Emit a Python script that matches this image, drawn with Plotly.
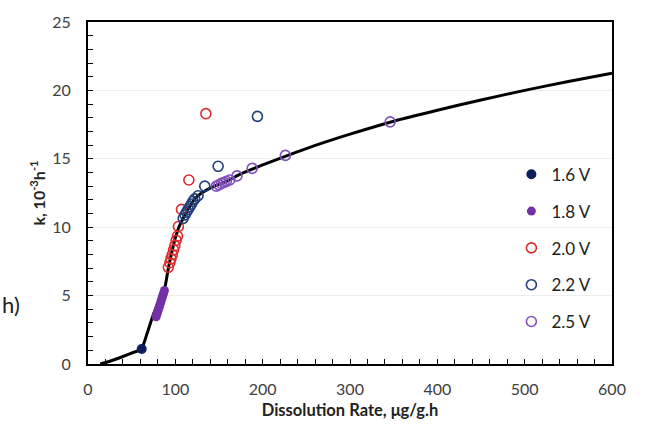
import plotly.graph_objects as go

# Fitted curve
curve_x = [14, 25, 40, 50, 61, 68, 75, 82, 88, 92, 96, 100, 104, 109, 115, 122, 130, 143,
           160, 175, 200, 250, 300, 350, 400, 450, 500, 550, 600]
curve_y = [0, 0.2, 0.55, 0.8, 1.1, 2.3, 3.65, 4.7, 5.6, 7.0, 8.2, 9.2, 10.0, 10.65, 11.35,
           12.05, 12.5, 12.95, 13.4, 13.9, 14.55, 15.75, 16.8, 17.75, 18.55, 19.3, 20.0, 20.65, 21.25]

# Series
x16 = [61.5]
y16 = [1.1]

x18 = [78, 78.9, 79.7, 80.6, 81.5, 82.3, 83.2, 84.1, 84.9, 85.8, 86.6, 87.5]
y18 = [3.45, 3.63, 3.8, 3.98, 4.15, 4.33, 4.5, 4.68, 4.85, 5.03, 5.2, 5.38]

x20 = [92, 93.7, 95, 96.5, 98, 99.4, 101, 102.5, 103.5, 107, 115.5, 135]
y20 = [7.07, 7.4, 7.7, 8.0, 8.35, 8.65, 9.05, 9.35, 10.05, 11.3, 13.45, 18.3]

x22 = [109, 111, 112.8, 114.6, 116.6, 118.5, 120.3, 122.3, 126, 133.7, 149, 194]
y22 = [10.65, 10.9, 11.1, 11.3, 11.5, 11.7, 11.9, 12.07, 12.3, 13.0, 14.45, 18.1]

x25 = [147, 150, 152.8, 155.8, 158.5, 162.3, 170.6, 188, 226, 346]
y25 = [13.0, 13.1, 13.2, 13.27, 13.35, 13.45, 13.75, 14.3, 15.25, 17.7]

series_names = ["1.6 V", "1.8 V", "2.0 V", "2.2 V", "2.5 V"]

FONT = "Lato, 'Open Sans', sans-serif"

fig = go.Figure()
fig.add_trace(go.Scatter(x=curve_x, y=curve_y, mode="lines", line=dict(color="black", width=3, shape="spline", smoothing=0.6),
                         showlegend=False, hoverinfo="skip"))

fig.add_trace(go.Scatter(x=x16, y=y16, mode="markers", name=series_names[0], legendgroup="a",
                         marker=dict(symbol="circle", size=10, color="#0B1F5C", line=dict(width=0))))
fig.add_trace(go.Scatter(x=x18, y=y18, mode="markers", name=series_names[1], legendgroup="b",
                         marker=dict(symbol="circle", size=9, color="#7232A6", line=dict(width=0))))
fig.add_trace(go.Scatter(x=x20, y=y20, mode="markers", name=series_names[2], legendgroup="c",
                         marker=dict(symbol="circle-open", size=10, color="#DD2A2A", line=dict(width=1.6))))
fig.add_trace(go.Scatter(x=x22, y=y22, mode="markers", name=series_names[3], legendgroup="d",
                         marker=dict(symbol="circle-open", size=10, color="#213F7A", line=dict(width=1.6))))
fig.add_trace(go.Scatter(x=x25, y=y25, mode="markers", name=series_names[4], legendgroup="e",
                         marker=dict(symbol="circle-open", size=10, color="#8150BC", line=dict(width=1.6))))

fig.update_layout(
    width=645, height=430,
    margin=dict(l=88, r=33, t=14, b=66),
    paper_bgcolor="white", plot_bgcolor="white",
    font=dict(family=FONT, size=16, color="#404040"),
    legend=dict(x=0.808, y=0.606, xanchor="left", yanchor="top", font=dict(size=17, color="#222222"),
                tracegroupgap=11.7, bgcolor="rgba(0,0,0,0)"),
    xaxis=dict(range=[0, 600], dtick=100, tick0=0, showgrid=False, zeroline=False,
               showline=True, linecolor="black", linewidth=2, mirror=True,
               ticks="inside", ticklen=5, tickcolor="black", tickwidth=1,
               minor=dict(dtick=20, ticks="inside", ticklen=5, tickcolor="black", showgrid=False),
               ticklabelstandoff=10,
               title=dict(text="<b>Dissolution Rate, μg/g.h</b>", font=dict(size=16.5, color="#222222"), standoff=7)),
    yaxis=dict(range=[0, 25], dtick=5, tick0=0, showgrid=True, gridcolor="#EDEDED", gridwidth=1, zeroline=False,
               showline=True, linecolor="black", linewidth=2, mirror=True,
               ticks="inside", ticklen=5, tickcolor="black", tickwidth=1,
               minor=dict(dtick=1, ticks="inside", ticklen=5, tickcolor="black", showgrid=False),
               ticklabelstandoff=12,
               title=dict(text="<b>k, 10<sup>-3</sup>h<sup>-1</sup></b>", font=dict(size=16, color="#222222"), standoff=3)),
    annotations=[dict(text="h)", xref="paper", yref="paper", x=-0.168, y=0.174, xanchor="left", yanchor="middle",
                      showarrow=False, font=dict(size=22, color="#222222"))],
)

fig.write_html("out.html", config={"displayModeBar": False},
               post_script="document.body.style.margin='0';")
